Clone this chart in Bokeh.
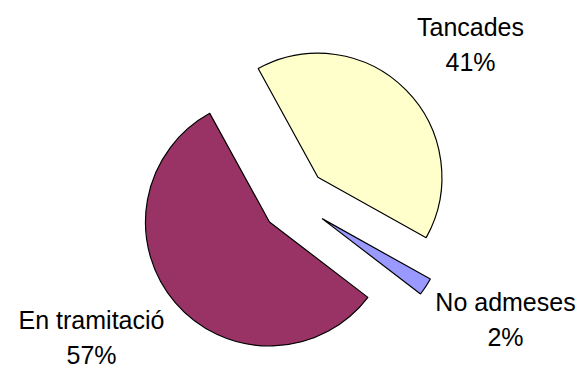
import math
from bokeh.plotting import figure
from bokeh.models import Range1d, ColumnDataSource
from bokeh.core.properties import value
from bokeh.embed import file_html
from bokeh.resources import INLINE

# ---- data ----
categories = ["Tancades", "No admeses", "En tramitació"]
shares = [41.1, 2.3, 56.6]
colors = ["#FFFFCC", "#9999FF", "#993366"]
pct_labels = [f"{round(v)}%" for v in shares]

# ---- layout (pixels) ----
W, H = 584, 369
cx, cy = 294, H - 200
radius = 124
explode = 33
start_deg = 118.8  # first slice edge, slices run clockwise
label_x = [470, 505, 91]
shift = 10
name_base = [H - 36.7 + shift, H - 311.7 + shift, H - 329.3 + shift]
pct_base = [H - 71.7 + shift, H - 346.7 + shift, H - 364.3 + shift]

total = sum(shares)
xs, ys, starts, ends = [], [], [], []
a = start_deg
for v in shares:
    span = 360.0 * v / total
    a_end = a - span
    mid = math.radians((a + a_end) / 2)
    xs.append(cx + explode * math.cos(mid))
    ys.append(cy + explode * math.sin(mid))
    starts.append(math.radians(a_end))
    ends.append(math.radians(a))
    a = a_end

src = ColumnDataSource(dict(x=xs, y=ys, start=starts, end=ends, color=colors))

p = figure(width=W, height=H, output_backend="svg", toolbar_location=None,
           x_range=Range1d(0, W), y_range=Range1d(0, H), min_border=0)
p.axis.visible = False
p.grid.visible = False
p.outline_line_color = None
p.background_fill_color = "white"
p.border_fill_color = "white"

p.wedge(x="x", y="y", radius=radius, start_angle="start", end_angle="end",
        fill_color="color", line_color="black", line_width=1.2, source=src)

tsrc = ColumnDataSource(dict(x=label_x, yn=name_base, yp=pct_base,
                             name=categories, pct=pct_labels))
for ycol, tcol in (("yn", "name"), ("yp", "pct")):
    p.text(x="x", y=ycol, text=tcol, source=tsrc, text_align="center",
           text_baseline="alphabetic", text_font=value("Liberation Sans"),
           text_font_size="25px", text_color="black")

open("out.html", "w").write(file_html(p, INLINE))
